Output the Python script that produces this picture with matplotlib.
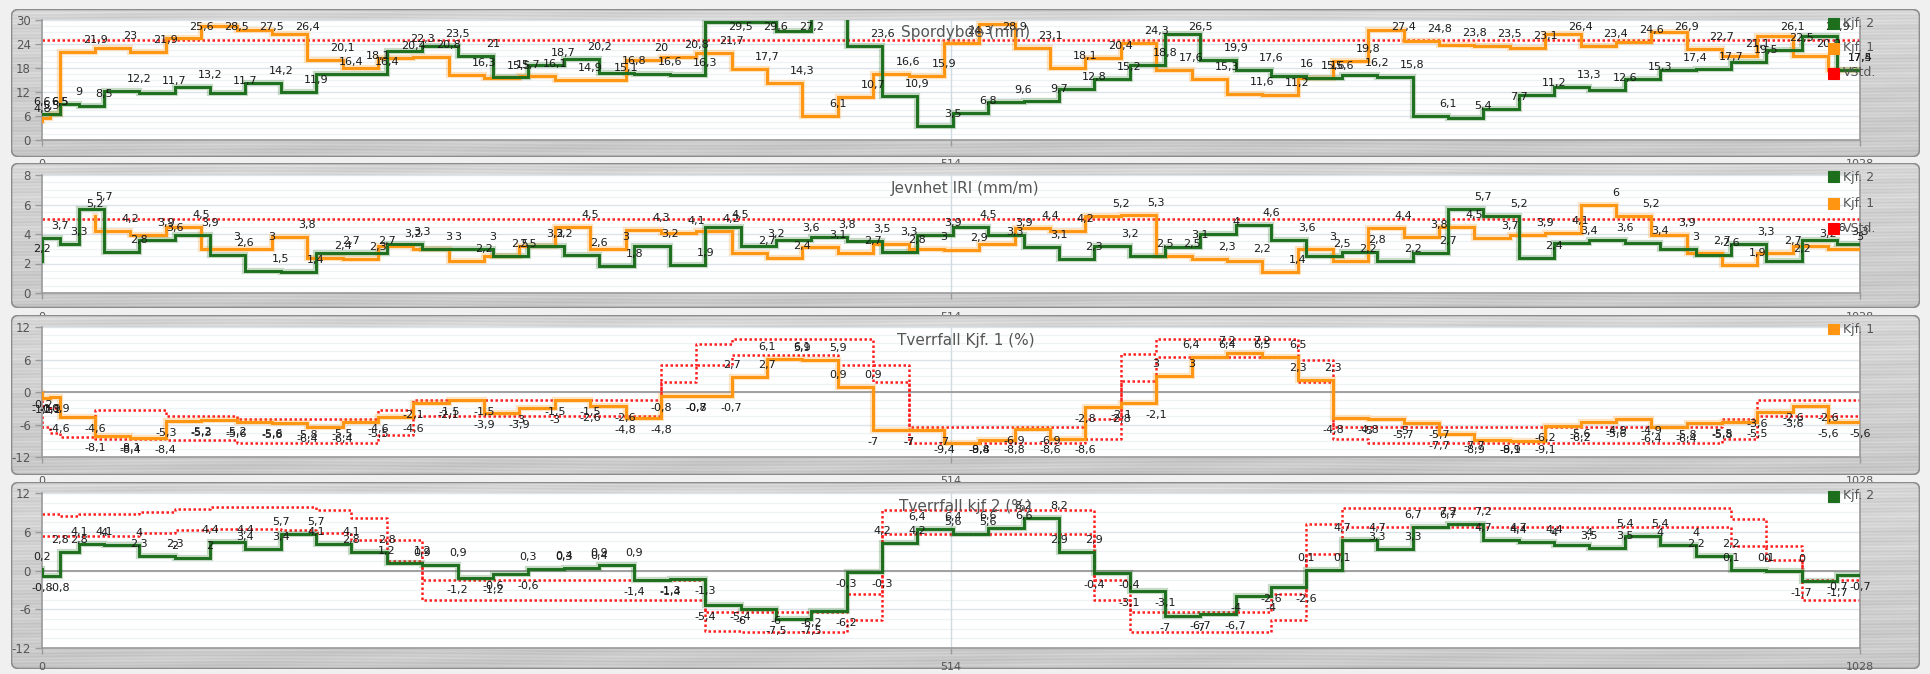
import numpy as np
import matplotlib
matplotlib.use("Agg")
import matplotlib.pyplot as plt
from matplotlib.patches import FancyBboxPatch, Rectangle

# ---------------------------------------------------------------- data
# chainage (m) of each measuring point; steps are drawn "pre" (value holds back to previous point)
KJF1_X = [0, 4.8, 10] + list(range(30, 1011, 20)) + [1028]
KJF2_X = [0, 10, 21] + list(range(35, 1016, 20)) + [1028]
IRI1_X = list(range(30, 1011, 20)) + [1028]

# Spordybde (mm)
spor_kjf1 = [4.8, 5.5, 6.5, 21.9, 23, 21.9, 25.6, 28.5, 27.5, 26.4, 20.1, 18.1, 20.4, 20.8, 16.3,
             15.5, 16.1, 14.9, 15.1, 20, 20.8, 21.7, 17.7, 14.3, 6.1, 10.7, 16.6, 15.9, 24.3, 28.9,
             23.1, 18.1, 20.4, 24.3, 17.6, 15.3, 11.6, 11.2, 15.6, 19.8, 27.4, 24.8, 23.8, 23.5,
             23.1, 26.4, 23.4, 24.6, 26.9, 22.7, 21.1, 26.1, 20.9, 17.5]
spor_kjf2 = [6.6, 6.5, 9, 8.5, 12.2, 11.7, 13.2, 11.7, 14.2, 11.9, 16.4, 16.4, 22.3, 23.5, 21,
             15.7, 18.7, 20.2, 16.8, 16.6, 16.3, 29.5, 29.6, 27.2, 31.5, 23.6, 10.9, 3.5, 6.8, 9.6,
             9.7, 12.8, 15.2, 18.8, 26.5, 19.9, 17.6, 16, 15.6, 16.2, 15.8, 6.1, 5.4, 7.7, 11.2,
             13.3, 12.6, 15.3, 17.4, 17.7, 19.5, 22.5, 25.9, 17.4]
spor_limit = 25

# Jevnhet IRI (mm/m)
iri_kjf1 = [5.2, 4.2, 3.9, 4.5, 3, 3, 3.8, 2.4, 2.3, 3.2, 3, 2.2, 2.5, 3.2, 4.5, 3, 4.3, 4.1,
            4.2, 2.7, 2.4, 3.1, 2.7, 3.3, 3, 2.9, 3.3, 4.4, 4.2, 5.2, 5.3, 2.5, 2.3, 2.2, 1.4, 3,
            2.2, 4.4, 3.8, 4.5, 3.7, 3.9, 4.1, 6, 5.2, 3.9, 2.7, 1.9, 2.7, 3.2, 3]
iri_kjf2 = [2.2, 3.7, 3.3, 5.7, 2.8, 3.6, 3.9, 2.6, 1.5, 1.4, 2.7, 2.7, 3.3, 3, 3, 2.5, 3.2,
            2.6, 1.8, 3.2, 1.9, 4.5, 3.2, 3.6, 3.8, 3.5, 2.8, 3.9, 4.5, 3.9, 3.1, 2.3, 3.2, 2.5,
            3.1, 4, 4.6, 3.6, 2.5, 2.8, 2.2, 2.7, 5.7, 5.2, 2.4, 3.4, 3.6, 3.4, 3, 2.6, 3.3, 2.2,
            3.6, 3.3]
iri_limit = 5

# Tverrfall Kjf. 1 (%) with allowed band
tv1 = [-0.2, -1.1, -0.9, -4.6, -8.1, -8.4, -5.3, -5.2, -5.6, -5.8, -6.4, -5.5, -4.6, -2.1,
       -1.5, -3.9, -3, -1.5, -2.6, -4.8, -0.8, -0.7, 2.7, 6.1, 5.9, 0.9, -7, -7, -9.4, -8.8,
       -6.9, -8.6, -2.8, -2.1, 3, 6.4, 7.2, 6.5, 2.3, -4.8, -5, -5.7, -7.7, -8.9, -9.1, -6.2,
       -5.6, -4.9, -6.4, -5.8, -5.5, -3.6, -2.6, -5.6]
tv1_upper = [-1.5, -2.5, -3.0, -4.6, -3.3, -3.3, -4.5, -4.5, -4.9, -4.9, -4.9, -4.9, -3.4,
             -1.4, -1.4, -1.4, -1.4, -1.4, -1.4, -1.4, 4.9, 8.8, 9.7, 9.7, 9.7, 9.7, 4.9, -6.5,
             -6.5, -6.5, -6.5, -6.5, -4.9, 7.1, 9.7, 9.7, 9.7, 9.7, 5.9, -6.5, -6.5, -6.5, -6.5,
             -6.5, -6.5, -6.5, -6.5, -6.5, -6.5, -6.5, -4.9, -1.4, -1.4, -1.4]
tv1_lower = [-4.5, -6.5, -7.5, -8.3, -8.6, -8.6, -8.9, -8.9, -9.4, -9.4, -9.4, -9.4, -8.0,
             -4.5, -4.5, -4.5, -4.5, -4.5, -4.5, -4.5, 1.8, 4.9, 6.8, 6.8, 6.8, 4.9, 1.8, -9.4,
             -9.4, -9.4, -9.4, -9.4, -8.6, 2.0, 6.5, 6.5, 6.5, 6.5, 1.9, -8.6, -9.4, -9.4, -9.4,
             -9.4, -9.4, -9.4, -9.4, -9.4, -9.4, -9.4, -8.6, -4.5, -4.5, -4.5]

# Tverrfall kjf 2 (%) with allowed band
tv2 = [0.2, -0.8, 2.8, 4.1, 4, 2.3, 2, 4.4, 3.4, 5.7, 4.1, 2.8, 1.2, 0.9, -1.2, -0.6, 0.3,
       0.4, 0.9, -1.4, -1.3, -5.4, -6, -7.5, -6.2, -0.3, 4.2, 6.4, 5.6, 6.6, 8.2, 2.9, -0.4,
       -3.1, -7, -6.7, -4, -2.6, 0.1, 4.7, 3.3, 6.7, 7.2, 4.7, 4.4, 4, 3.5, 5.4, 4, 2.2, 0.1,
       0, -1.7, -0.7]
tv2_upper = [8.7, 8.7, 8.5, 8.7, 8.7, 9.1, 9.6, 9.8, 9.8, 9.8, 9.4, 8.2, 4.75, -1.5, -1.5,
             -1.5, -1.5, -1.5, -1.5, -1.5, -1.5, -6.4, -6.5, -6.5, -6.5, -3.6, 9.4, 9.4, 9.4,
             9.4, 9.4, 9.4, -1.5, -6.4, -6.5, -6.5, -6.5, -3.6, 7.2, 9.7, 9.7, 9.7, 9.7, 9.7,
             9.7, 9.7, 9.7, 9.7, 9.7, 9.7, 8.0, 3.8, -1.5, -1.5]
tv2_lower = [5.3, 5.3, 5.3, 5.3, 5.3, 5.8, 6.3, 6.4, 6.4, 6.3, 5.8, 4.8, 1.45, -4.6, -4.6,
             -4.6, -4.6, -4.6, -4.6, -4.6, -4.6, -9.4, -9.5, -9.5, -9.5, -7.7, 5.6, 5.6, 5.6,
             5.6, 5.6, 5.6, -4.6, -9.5, -9.5, -9.5, -9.5, -7.7, 2.5, 6.7, 6.7, 6.7, 6.7, 6.7,
             6.7, 6.7, 6.7, 6.7, 6.7, 6.7, 3.8, 1.6, -4.6, -4.6]

X_TICKS = [0, 514, 1028]

# ---------------------------------------------------------------- style
GREEN = "#1d6e1d"
ORANGE = "#ff9510"
RED = "#ff2020"
TXT = "#1a1a1a"
GRAY = "#555555"

W, H, DPI = 1930, 674, 100
fig = plt.figure(figsize=(W / DPI, H / DPI), dpi=DPI)
fig.patch.set_facecolor("#f0f0f0")

PLOT_L, PLOT_R = 42, 1860
FRAME_L, FRAME_R = 11, 1920


def fmt(v):
    return ("%g" % v).replace(".", ",")


def metal(h, w):
    y = np.arange(h)[:, None].astype(float)
    x = np.arange(w)[None, :].astype(float)
    lum = 0.84 - 0.05 * (y / h)
    lum = lum + 0.022 * np.sin(y * 1.9 + 3.0 * np.sin(x / 151.0))
    lum = lum + 0.015 * np.sin(y * 0.61 + x / 293.0)
    lum = lum + 0.010 * np.sin(x / 37.0 + y * 0.2)
    lum = np.clip(lum, 0, 1)
    return np.dstack([lum, lum, lum])


def frame(top, bottom):
    fa = fig.add_axes([FRAME_L / W, 1 - bottom / H, (FRAME_R - FRAME_L) / W, (bottom - top) / H])
    fa.set_xlim(0, FRAME_R - FRAME_L)
    fa.set_ylim(bottom - top, 0)
    fa.axis("off")
    w, h = FRAME_R - FRAME_L, bottom - top
    box = FancyBboxPatch((0.5, 0.5), w - 1, h - 1, boxstyle="round,pad=0,rounding_size=7",
                         facecolor="none", edgecolor="#8c8c8c", linewidth=1.2, zorder=3)
    fa.add_patch(box)
    im = fa.imshow(metal(h, w), extent=(0, w, h, 0), interpolation="bilinear", zorder=1)
    im.set_clip_path(box)
    return fa


def plot_axes(top, bottom, ylim, yticks, xpad=6):
    ax = fig.add_axes([PLOT_L / W, 1 - bottom / H, (PLOT_R - PLOT_L) / W, (bottom - top) / H])
    ax.set_facecolor("white")
    ax.set_xlim(0, 1028)
    ax.set_ylim(*ylim)
    step = yticks[1] - yticks[0]
    for k in range(len(yticks) - 1):
        for q in (1, 2, 3):
            ax.axhline(yticks[k] + step * q / 4, color="#eef2f5", lw=0.9, zorder=0)
    for t in yticks:
        ax.axhline(t, color="#dce4ea", lw=1.0, zorder=0)
    ax.axvline(514, color="#cfdbe3", lw=1.0, zorder=0)
    ax.set_yticks(yticks)
    ax.set_yticklabels([str(t) for t in yticks])
    ax.set_xticks(X_TICKS)
    ax.set_xticklabels([str(t) for t in X_TICKS])
    ax.tick_params(axis="y", length=5, width=1, color="#9a9a9a", labelsize=8.5,
                   labelcolor=GRAY, pad=3)
    ax.tick_params(axis="x", length=4, width=1, color="#9a9a9a", labelsize=8,
                   labelcolor=GRAY, pad=xpad)
    for s in ("left", "bottom", "right"):
        ax.spines[s].set_color("#9a9a9a")
        ax.spines[s].set_linewidth(1.2)
    ax.spines["top"].set_visible(False)
    return ax


def step_line(ax, xs, vs, color, z=3):
    ax.plot(xs, vs, drawstyle="steps-pre", color=color, lw=4.5, alpha=0.25,
            solid_joinstyle="miter", zorder=z)
    ax.plot(xs, vs, drawstyle="steps-pre", color=color, lw=2.1,
            solid_joinstyle="miter", zorder=z + 0.1)


def band_line(ax, xs, vs):
    ax.plot(xs, vs, drawstyle="steps-pre", color=RED, lw=1.8, ls=(0, (1, 1)), zorder=2.5)


def labels(ax, xs, vs, ylim, h_px, both_ends=False, below_neg=False):
    upp = (ylim[1] - ylim[0]) / h_px
    for i, v in enumerate(vs):
        if not (ylim[0] <= v <= ylim[1]):
            continue
        xs_here = [xs[i - 1], xs[i]] if (both_ends and i > 0) else [xs[i]]
        yl = v - 12 * upp if (below_neg and v < 0) else v + 12 * upp
        yl = min(max(yl, ylim[0] + 7 * upp), ylim[1] - 7 * upp)
        for xv in xs_here:
            ax.text(xv, yl, fmt(v), ha="center", va="center", fontsize=8, color=TXT,
                    zorder=6, clip_on=False)


def title(text, y):
    fig.text((FRAME_L + FRAME_R) / 2 / W, 1 - y / H, text, ha="center", va="center",
             fontsize=11, color=GRAY, zorder=10)


def legend(items, ys):
    for (name, col), y in zip(items, ys):
        fig.patches.append(Rectangle(((1828) / W, 1 - (y + 5.5) / H), 11 / W, 11 / H,
                                     transform=fig.transFigure, facecolor=col,
                                     edgecolor=col, alpha=1.0, linewidth=0.8, zorder=20))
        fig.text(1843 / W, 1 - y / H, name, ha="left", va="center", fontsize=9,
                 color=GRAY, zorder=21)


# ---------------------------------------------------------------- panel 1: Spordybde
frame(9, 157)
ax1 = plot_axes(20, 140, (0, 30), [0, 6, 12, 18, 24, 30], xpad=9.5)
ax1.axhline(spor_limit, color=RED, lw=1.8, ls=(0, (1, 1)), zorder=2.5)
step_line(ax1, KJF1_X, spor_kjf1, ORANGE)
step_line(ax1, KJF2_X, spor_kjf2, GREEN)
labels(ax1, KJF1_X, spor_kjf1, (0, 30), 120)
labels(ax1, KJF2_X, spor_kjf2, (0, 30), 120)
title("Spordybde (mm)", 33)
legend([("Kjf. 2", GREEN), ("Kjf. 1", ORANGE), ("VStd.", "#ff0000")], [23, 48, 73])

# ---------------------------------------------------------------- panel 2: IRI
frame(163, 308)
ax2 = plot_axes(175, 293, (0, 8), [0, 2, 4, 6, 8], xpad=9.5)
ax2.axhline(iri_limit, color=RED, lw=1.8, ls=(0, (1, 1)), zorder=2.5)
step_line(ax2, IRI1_X, iri_kjf1, ORANGE)
step_line(ax2, KJF2_X, iri_kjf2, GREEN)
labels(ax2, IRI1_X, iri_kjf1, (0, 8), 118)
labels(ax2, KJF2_X, iri_kjf2, (0, 8), 118)
title("Jevnhet IRI (mm/m)", 188)
legend([("Kjf. 2", GREEN), ("Kjf. 1", ORANGE), ("VStd.", "#ff0000")], [177, 203, 228])

# ---------------------------------------------------------------- panel 3: Tverrfall Kjf. 1
frame(315, 475)
ax3 = plot_axes(327, 457, (-12, 12), [-12, -6, 0, 6, 12], xpad=9.5)
ax3.axhline(0, color="#a0a0a0", lw=1.4, zorder=1)
band_line(ax3, KJF1_X, tv1_upper)
band_line(ax3, KJF1_X, tv1_lower)
step_line(ax3, KJF1_X, tv1, ORANGE)
labels(ax3, KJF1_X, tv1, (-12, 12), 130, both_ends=True, below_neg=True)
title("Tverrfall Kjf. 1 (%)", 341)
legend([("Kjf. 1", ORANGE)], [329])

# ---------------------------------------------------------------- panel 4: Tverrfall kjf 2
frame(482, 669)
ax4 = plot_axes(493, 648, (-12, 12), [-12, -6, 0, 6, 12])
ax4.axhline(0, color="#a0a0a0", lw=1.4, zorder=1)
band_line(ax4, KJF2_X, tv2_upper)
band_line(ax4, KJF2_X, tv2_lower)
step_line(ax4, KJF2_X, tv2, GREEN)
labels(ax4, KJF2_X, tv2, (-12, 12), 155, both_ends=True, below_neg=True)
title("Tverrfall kjf 2 (%)", 507)
legend([("Kjf. 2", GREEN)], [496])

fig.savefig("out.png", dpi=DPI, facecolor=fig.get_facecolor())
